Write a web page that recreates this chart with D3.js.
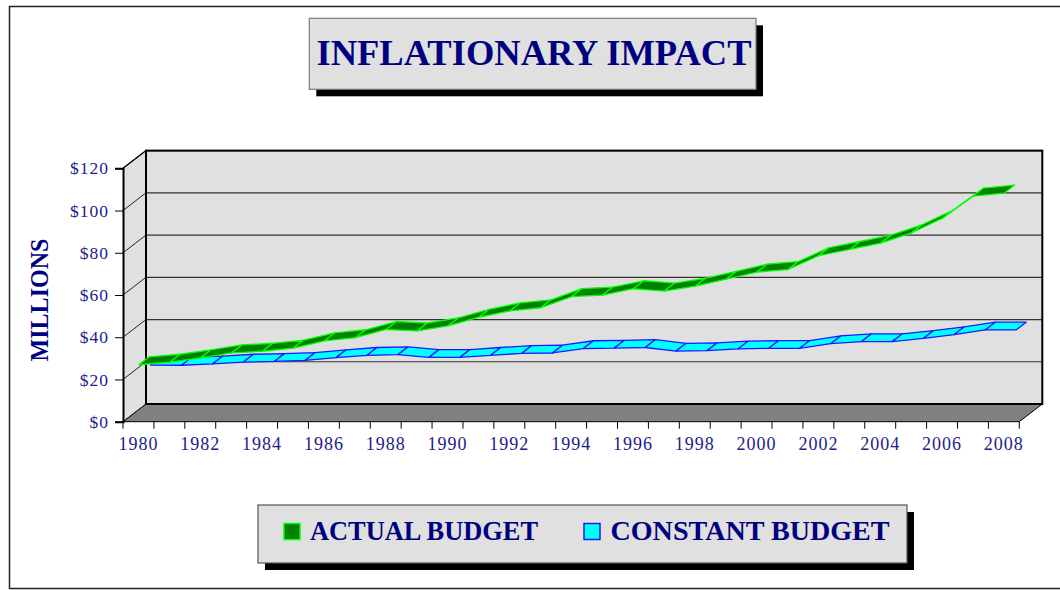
<!DOCTYPE html>
<html>
<head>
<meta charset="utf-8">
<script src="https://cdn.jsdelivr.net/npm/d3@7"></script>
<style>
  body { margin: 0; background: #fff; }
  text { font-family: "Liberation Serif", "Times New Roman", serif; }
</style>
</head>
<body>
<div id="chart"></div>
<script>
// chart data
var years = ["1980", "1981", "1982", "1983", "1984", "1985", "1986", "1987", "1988", "1989",
  "1990", "1991", "1992", "1993", "1994", "1995", "1996", "1997", "1998", "1999",
  "2000", "2001", "2002", "2003", "2004", "2005", "2006", "2007", "2008"];
var actualBudget = [26.8, 28.0, 30.1, 32.4, 33.2, 34.7, 38.1, 39.6, 43.5, 42.8,
  45.2, 49.3, 52.3, 53.8, 59.1, 59.8, 62.8, 61.7, 64.0, 67.3,
  70.7, 71.9, 78.5, 81.4, 84.4, 89.3, 96.2, 106.7, 108.1];
var constantBudget = [22.4, 22.3, 22.9, 23.8, 24.1, 24.6, 25.9, 27.0, 27.3, 26.0,
  26.0, 27.0, 27.9, 28.1, 30.2, 30.4, 30.7, 29.0, 29.2, 30.0,
  30.3, 30.3, 32.5, 33.5, 33.5, 35.0, 36.8, 39.0, 39.0];
var yTickValues = [0, 20, 40, 60, 80, 100, 120];
var xLabelYears = ["1980", "1982", "1984", "1986", "1988", "1990", "1992", "1994",
  "1996", "1998", "2000", "2002", "2004", "2006", "2008"];
var seriesNames = ["ACTUAL BUDGET", "CONSTANT BUDGET"];

// svg area
var svgWidth = 1060;
var svgHeight = 590;

// front plane of the 3d box and its depth offset
var plot = { left: 123, right: 1019.3, top: 168.3, bottom: 421.7 };
var depth = { dx: 23, dy: -17.7 };

var navy = "#000080";
var axisBlue = "#1c1c8a";

var svg = d3.select("#chart")
  .append("svg")
  .attr("width", svgWidth)
  .attr("height", svgHeight);

// outer frame
svg.append("rect")
  .attr("x", 9.5)
  .attr("y", 6.5)
  .attr("width", 1070)
  .attr("height", 582)
  .attr("fill", "none")
  .attr("stroke", "#222")
  .attr("stroke-width", 1.5);

// scales
var xScale = d3.scaleBand()
  .domain(years)
  .range([plot.left, plot.right]);

var yScale = d3.scaleLinear()
  .domain([0, 120])
  .range([plot.bottom, plot.top]);

var bw = xScale.bandwidth();

function pt(year, v, z) {
  return [xScale(year) + bw / 2 + depth.dx * z, yScale(v) + depth.dy * z];
}

var box = svg.append("g");

// side wall
box.append("polygon")
  .attr("points", [
    [plot.left, plot.top],
    [plot.left + depth.dx, plot.top + depth.dy],
    [plot.left + depth.dx, plot.bottom + depth.dy],
    [plot.left, plot.bottom]
  ].join(" "))
  .attr("fill", "#e0e0e0");

// back wall
box.append("rect")
  .attr("x", plot.left + depth.dx)
  .attr("y", plot.top + depth.dy)
  .attr("width", plot.right - plot.left)
  .attr("height", plot.bottom - plot.top)
  .attr("fill", "#e0e0e0");

// floor
box.append("polygon")
  .attr("points", [
    [plot.left, plot.bottom],
    [plot.right, plot.bottom],
    [plot.right + depth.dx, plot.bottom + depth.dy],
    [plot.left + depth.dx, plot.bottom + depth.dy]
  ].join(" "))
  .attr("fill", "#808080")
  .attr("stroke", "#000")
  .attr("stroke-width", 1);

// gridlines on back wall and side wall
yTickValues.forEach(function(v) {
  box.append("line")
    .attr("x1", plot.left + depth.dx)
    .attr("x2", plot.right + depth.dx)
    .attr("y1", yScale(v) + depth.dy)
    .attr("y2", yScale(v) + depth.dy)
    .attr("stroke", "#333")
    .attr("stroke-width", 1.2);
  box.append("line")
    .attr("x1", plot.left)
    .attr("x2", plot.left + depth.dx)
    .attr("y1", yScale(v))
    .attr("y2", yScale(v) + depth.dy)
    .attr("stroke", "#222")
    .attr("stroke-width", 1);
});

// back wall outline
box.append("rect")
  .attr("x", plot.left + depth.dx)
  .attr("y", plot.top + depth.dy)
  .attr("width", plot.right - plot.left)
  .attr("height", plot.bottom - plot.top)
  .attr("fill", "none")
  .attr("stroke", "#000")
  .attr("stroke-width", 2);

box.append("line")
  .attr("x1", plot.left)
  .attr("y1", plot.top)
  .attr("x2", plot.left + depth.dx)
  .attr("y2", plot.top + depth.dy)
  .attr("stroke", "#000")
  .attr("stroke-width", 1.2);

// y axis on the front edge
var leftAxis = d3.axisLeft(yScale)
  .tickValues(yTickValues)
  .tickSize(8)
  .tickPadding(6)
  .tickFormat(d => "$" + d);

var yAxis = svg.append("g")
  .attr("transform", `translate(${plot.left}, 0)`)
  .call(leftAxis);

yAxis.select(".domain").attr("stroke", "#000").attr("stroke-width", 2);
yAxis.selectAll(".tick line").attr("stroke", "#000");
yAxis.selectAll(".tick text")
  .attr("fill", axisBlue)
  .attr("font-size", 17.5)
  .attr("letter-spacing", 1)
  .style("font-family", "'Liberation Serif', serif");

// x axis: ticks on category boundaries, labels every other year
var xAxisG = svg.append("g");
d3.range(years.length + 1).forEach(function(i) {
  var xx = plot.left + i * bw;
  xAxisG.append("line")
    .attr("x1", xx).attr("x2", xx)
    .attr("y1", plot.bottom).attr("y2", plot.bottom + 7)
    .attr("stroke", "#000");
});

var bottomAxis = d3.axisBottom(xScale)
  .tickValues(xLabelYears)
  .tickSize(0)
  .tickPadding(16);

var xAxis = svg.append("g")
  .attr("transform", `translate(0, ${plot.bottom})`)
  .call(bottomAxis);

xAxis.select(".domain").remove();
xAxis.selectAll(".tick text")
  .attr("fill", axisBlue)
  .attr("font-size", 18)
  .attr("letter-spacing", 1)
  .style("font-family", "'Liberation Serif', serif");

// ribbons, back series first
function drawRibbon(values, z0, z1, fill, stroke) {
  var g = svg.append("g");
  for (var i = 0; i < years.length - 1; i++) {
    var a = years[i], b = years[i + 1];
    g.append("polygon")
      .attr("points", [
        pt(a, values[i], z0),
        pt(b, values[i + 1], z0),
        pt(b, values[i + 1], z1),
        pt(a, values[i], z1)
      ].join(" "))
      .attr("fill", fill)
      .attr("stroke", stroke)
      .attr("stroke-width", 1.3)
      .attr("stroke-linejoin", "round");
  }
}

drawRibbon(constantBudget, 0.53, 0.97, "#00ffff", "#1a1aff");
drawRibbon(actualBudget, 0.02, 0.47, "#008000", "#00ff00");

// y axis title
svg.append("text")
  .attr("transform", "translate(48, 300) rotate(-90)")
  .attr("text-anchor", "middle")
  .attr("fill", navy)
  .attr("font-size", 26)
  .attr("font-weight", "bold")
  .attr("textLength", 123)
  .attr("lengthAdjust", "spacingAndGlyphs")
  .text("MILLIONS");

// title box
var title = svg.append("g");
title.append("rect")
  .attr("x", 316.3).attr("y", 25.3)
  .attr("width", 446.7).attr("height", 71)
  .attr("fill", "#000");
title.append("rect")
  .attr("x", 309.3).attr("y", 18.3)
  .attr("width", 446.7).attr("height", 71)
  .attr("fill", "#e0e0e0")
  .attr("stroke", "#7a7a7a")
  .attr("stroke-width", 1.2);
title.append("text")
  .attr("x", 534)
  .attr("y", 65)
  .attr("text-anchor", "middle")
  .attr("fill", navy)
  .attr("font-size", 36)
  .attr("font-weight", "bold")
  .attr("textLength", 435)
  .attr("lengthAdjust", "spacingAndGlyphs")
  .text("INFLATIONARY IMPACT");

// legend
var legend = svg.append("g");
legend.append("rect")
  .attr("x", 265).attr("y", 512)
  .attr("width", 649).attr("height", 58)
  .attr("fill", "#000");
legend.append("rect")
  .attr("x", 258).attr("y", 505)
  .attr("width", 649).attr("height", 58)
  .attr("fill", "#e0e0e0")
  .attr("stroke", "#555")
  .attr("stroke-width", 1.2);

var legendItems = [
  { name: seriesNames[0], fill: "#008000", stroke: "#00ff00", sx: 284, tx: 310, len: 228 },
  { name: seriesNames[1], fill: "#00ffff", stroke: "#1a1aff", sx: 584, tx: 610.5, len: 279 }
];

legendItems.forEach(function(d) {
  legend.append("rect")
    .attr("x", d.sx).attr("y", 523.5)
    .attr("width", 16).attr("height", 16)
    .attr("fill", d.fill)
    .attr("stroke", d.stroke)
    .attr("stroke-width", 1.5);
  legend.append("text")
    .attr("x", d.tx)
    .attr("y", 540)
    .attr("fill", navy)
    .attr("font-size", 27)
    .attr("font-weight", "bold")
    .attr("textLength", d.len)
    .attr("lengthAdjust", "spacingAndGlyphs")
    .text(d.name);
});
</script>
</body>
</html>
